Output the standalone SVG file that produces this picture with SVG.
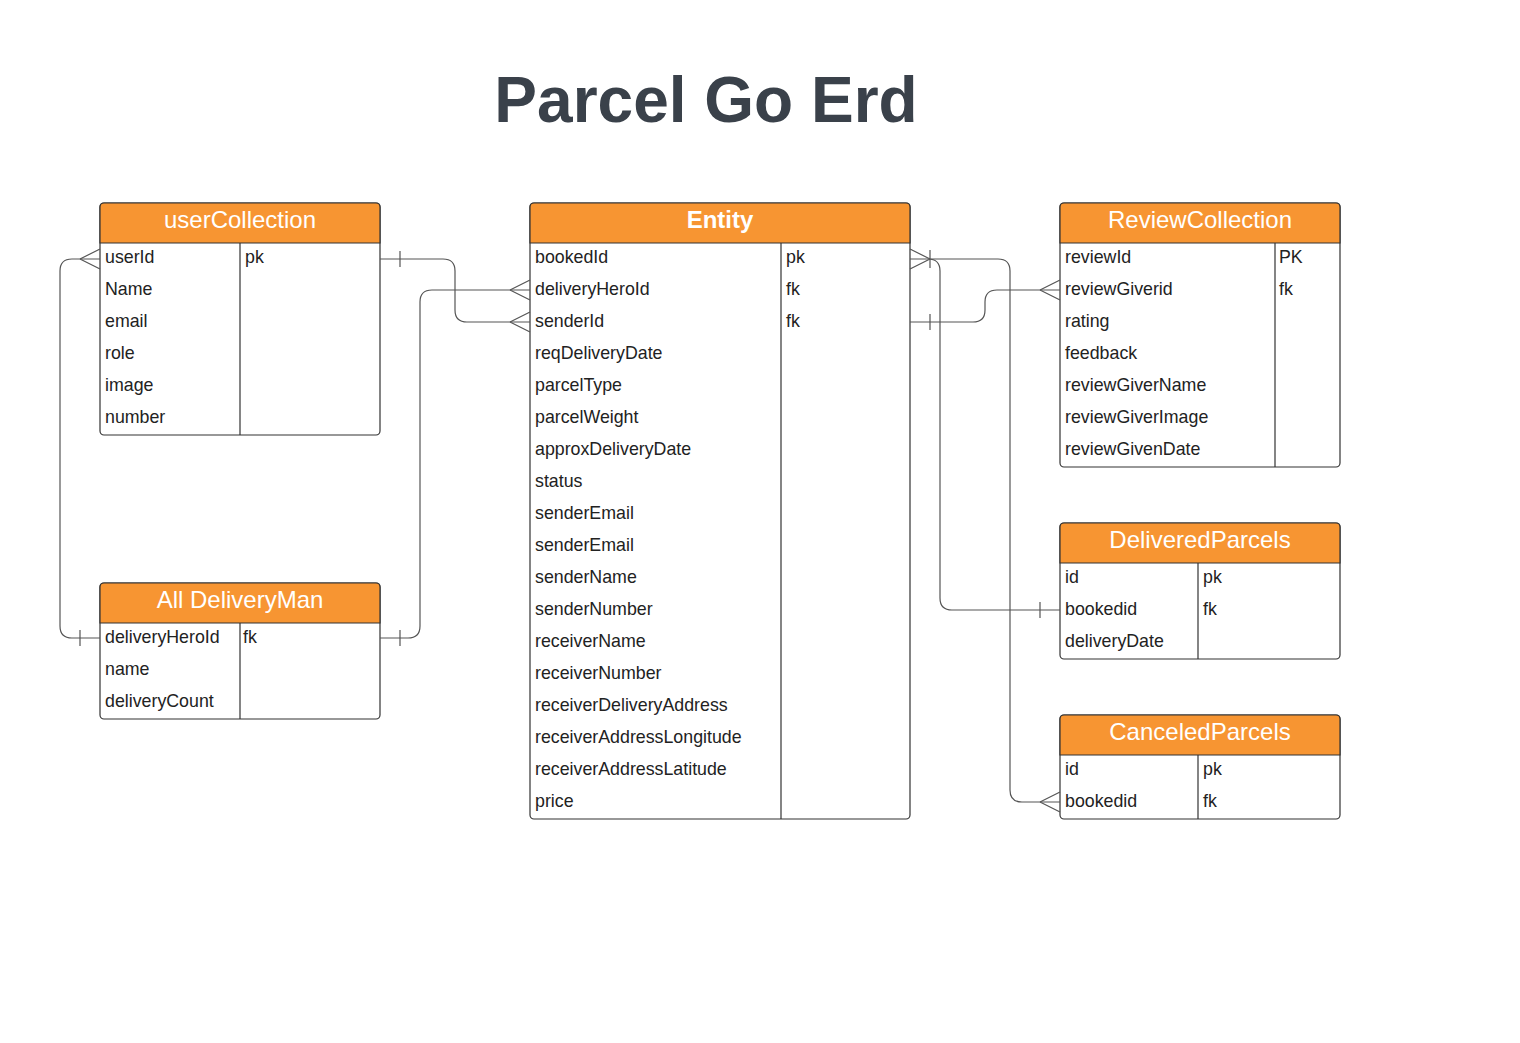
<svg xmlns="http://www.w3.org/2000/svg" width="1520" height="1043" viewBox="0 0 1520 1043">
<style>
.box{fill:#fff;stroke:#333;stroke-width:1.2}
.hdr{fill:#f79532;stroke:#333;stroke-width:1.2}
.div{stroke:#333;stroke-width:1.2}
.ht{font-family:"Liberation Sans",Arial,sans-serif;font-size:24px;fill:#fff;text-anchor:middle}
.hb{font-weight:bold}
.rt{font-family:"Liberation Sans",Arial,sans-serif;font-size:17.8px;fill:#222}
.cn{fill:none;stroke:#555;stroke-width:1.2}
.title{font-family:"Liberation Sans",Arial,sans-serif;font-size:64px;font-weight:bold;fill:#3a414a;text-anchor:middle}
</style>
<rect width="1520" height="1043" fill="#fff"/>
<text class="title" x="706" y="122">Parcel Go Erd</text>

<g id="userCollection">
<rect class="box" x="100" y="203" width="280" height="232" rx="4"/>
<path class="hdr" d="M100,243 V207 Q100,203 104,203 H376 Q380,203 380,207 V243 Z"/>
<line class="div" x1="240" y1="243" x2="240" y2="435"/>
<text class="ht" x="240" y="228">userCollection</text>
<text class="rt" x="105" y="263">userId</text><text class="rt" x="245" y="263">pk</text>
<text class="rt" x="105" y="295">Name</text>
<text class="rt" x="105" y="327">email</text>
<text class="rt" x="105" y="359">role</text>
<text class="rt" x="105" y="391">image</text>
<text class="rt" x="105" y="423">number</text>
</g>

<g id="allDeliveryMan">
<rect class="box" x="100" y="583" width="280" height="136" rx="4"/>
<path class="hdr" d="M100,623 V587 Q100,583 104,583 H376 Q380,583 380,587 V623 Z"/>
<line class="div" x1="240" y1="623" x2="240" y2="719"/>
<text class="ht" x="240" y="608">All DeliveryMan</text>
<text class="rt" x="105" y="643">deliveryHeroId</text><text class="rt" x="243" y="643">fk</text>
<text class="rt" x="105" y="675">name</text>
<text class="rt" x="105" y="707">deliveryCount</text>
</g>

<g id="entity">
<rect class="box" x="530" y="203" width="380" height="616" rx="4"/>
<path class="hdr" d="M530,243 V207 Q530,203 534,203 H906 Q910,203 910,207 V243 Z"/>
<line class="div" x1="781" y1="243" x2="781" y2="819"/>
<text class="ht hb" x="720" y="228">Entity</text>
<text class="rt" x="535" y="263">bookedId</text><text class="rt" x="786" y="263">pk</text>
<text class="rt" x="535" y="295">deliveryHeroId</text><text class="rt" x="786" y="295">fk</text>
<text class="rt" x="535" y="327">senderId</text><text class="rt" x="786" y="327">fk</text>
<text class="rt" x="535" y="359">reqDeliveryDate</text>
<text class="rt" x="535" y="391">parcelType</text>
<text class="rt" x="535" y="423">parcelWeight</text>
<text class="rt" x="535" y="455">approxDeliveryDate</text>
<text class="rt" x="535" y="487">status</text>
<text class="rt" x="535" y="519">senderEmail</text>
<text class="rt" x="535" y="551">senderEmail</text>
<text class="rt" x="535" y="583">senderName</text>
<text class="rt" x="535" y="615">senderNumber</text>
<text class="rt" x="535" y="647">receiverName</text>
<text class="rt" x="535" y="679">receiverNumber</text>
<text class="rt" x="535" y="711">receiverDeliveryAddress</text>
<text class="rt" x="535" y="743">receiverAddressLongitude</text>
<text class="rt" x="535" y="775">receiverAddressLatitude</text>
<text class="rt" x="535" y="807">price</text>
</g>

<g id="reviewCollection">
<rect class="box" x="1060" y="203" width="280" height="264" rx="4"/>
<path class="hdr" d="M1060,243 V207 Q1060,203 1064,203 H1336 Q1340,203 1340,207 V243 Z"/>
<line class="div" x1="1275" y1="243" x2="1275" y2="467"/>
<text class="ht" x="1200" y="228">ReviewCollection</text>
<text class="rt" x="1065" y="263">reviewId</text><text class="rt" x="1279" y="263">PK</text>
<text class="rt" x="1065" y="295">reviewGiverid</text><text class="rt" x="1279" y="295">fk</text>
<text class="rt" x="1065" y="327">rating</text>
<text class="rt" x="1065" y="359">feedback</text>
<text class="rt" x="1065" y="391">reviewGiverName</text>
<text class="rt" x="1065" y="423">reviewGiverImage</text>
<text class="rt" x="1065" y="455">reviewGivenDate</text>
</g>

<g id="deliveredParcels">
<rect class="box" x="1060" y="523" width="280" height="136" rx="4"/>
<path class="hdr" d="M1060,563 V527 Q1060,523 1064,523 H1336 Q1340,523 1340,527 V563 Z"/>
<line class="div" x1="1198" y1="563" x2="1198" y2="659"/>
<text class="ht" x="1200" y="548">DeliveredParcels</text>
<text class="rt" x="1065" y="583">id</text><text class="rt" x="1203" y="583">pk</text>
<text class="rt" x="1065" y="615">bookedid</text><text class="rt" x="1203" y="615">fk</text>
<text class="rt" x="1065" y="647">deliveryDate</text>
</g>

<g id="canceledParcels">
<rect class="box" x="1060" y="715" width="280" height="104" rx="4"/>
<path class="hdr" d="M1060,755 V719 Q1060,715 1064,715 H1336 Q1340,715 1340,719 V755 Z"/>
<line class="div" x1="1198" y1="755" x2="1198" y2="819"/>
<text class="ht" x="1200" y="740">CanceledParcels</text>
<text class="rt" x="1065" y="775">id</text><text class="rt" x="1203" y="775">pk</text>
<text class="rt" x="1065" y="807">bookedid</text><text class="rt" x="1203" y="807">fk</text>
</g>

<g id="connectors">
<!-- userId -> senderId -->
<path class="cn" d="M380,259 H443 Q455,259 455,271 V310 Q455,322 467,322 H530"/>
<path class="cn" d="M400,251 V267 M510,322 L530,312 M510,322 L530,332"/>
<!-- deliveryHeroId (All DeliveryMan) -> deliveryHeroId (Entity) -->
<path class="cn" d="M380,638 H408 Q420,638 420,626 V302 Q420,290 432,290 H530"/>
<path class="cn" d="M400,630 V646 M510,290 L530,280 M510,290 L530,300"/>
<!-- userId left -> All DeliveryMan left -->
<path class="cn" d="M100,259 H72 Q60,259 60,271 V626 Q60,638 72,638 H100"/>
<path class="cn" d="M80,259 L100,249 M80,259 L100,269 M80,630 V646"/>
<!-- bookedId -> DeliveredParcels -->
<path class="cn" d="M910,259 H928 Q940,259 940,271 V598 Q940,610 952,610 H1060"/>
<path class="cn" d="M930,259 L910,249 M930,259 L910,269 M930,250 V268 M1040,602 V618"/>
<!-- bookedId -> CanceledParcels -->
<path class="cn" d="M930,259 H998 Q1010,259 1010,271 V790 Q1010,802 1022,802 H1060"/>
<path class="cn" d="M1040,802 L1060,792 M1040,802 L1060,812"/>
<!-- senderId -> reviewGiverid -->
<path class="cn" d="M910,322 H973 Q985,322 985,310 V302 Q985,290 997,290 H1060"/>
<path class="cn" d="M930,314 V330 M1040,290 L1060,280 M1040,290 L1060,300"/>
</g>
</svg>
